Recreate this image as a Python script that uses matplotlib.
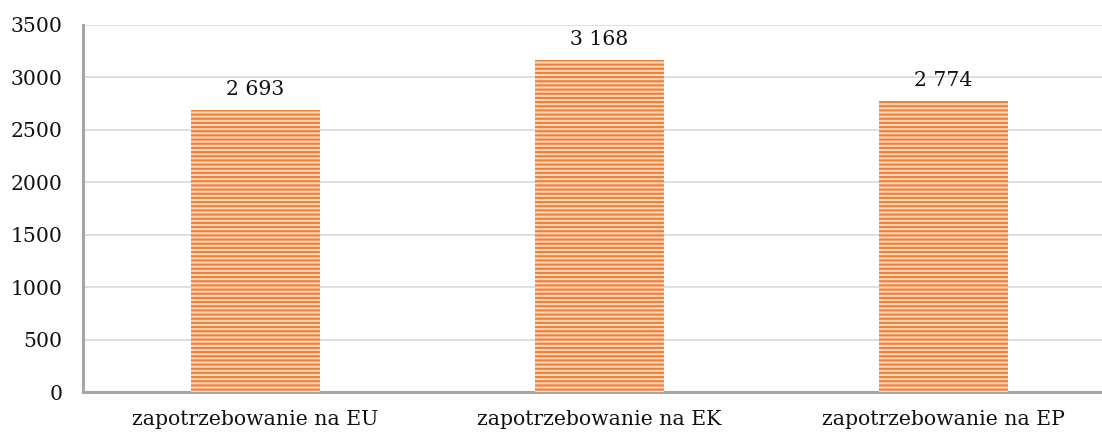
import matplotlib
matplotlib.use("Agg")
import matplotlib.pyplot as plt

categories = ["zapotrzebowanie na EU", "zapotrzebowanie na EK", "zapotrzebowanie na EP"]
values = [2693, 3168, 2774]
y_ticks = [0, 500, 1000, 1500, 2000, 2500, 3000, 3500]

plt.rcParams["font.family"] = "DejaVu Serif"
plt.rcParams["hatch.linewidth"] = 1.5

fig = plt.figure(figsize=(11.02, 4.34), dpi=100)
ax = fig.add_axes([83 / 1102, 1 - 392 / 434, 1032 / 1102, 367 / 434])

x = range(len(categories))
ax.bar(x, values, width=0.375, color="#FBD6BA", edgecolor="#EE8036",
       linewidth=0, hatch="----", zorder=3)

for xi, v in zip(x, values):
    ax.annotate(f"{v:,}".replace(",", " "), (xi, v), xytext=(0, 8),
                textcoords="offset points", ha="center", va="bottom",
                fontsize=14.7, color="#111111")

ax.set_xlim(-0.5, 2.5)
ax.set_ylim(0, 3500)
ax.set_yticks(y_ticks)
ax.set_xticks(list(x))
ax.set_xticklabels(categories)
ax.tick_params(axis="both", length=0, labelsize=14.7, colors="#111111")
ax.tick_params(axis="y", pad=15)
ax.tick_params(axis="x", pad=13)

ax.grid(axis="y", color="#DCDCDC", linewidth=1.3, zorder=0)
for s in ["top", "right"]:
    ax.spines[s].set_visible(False)
for s in ["left", "bottom"]:
    ax.spines[s].set_color("#A6A6A6")
    ax.spines[s].set_linewidth(2.2)

fig.savefig("out.png", dpi=100)
